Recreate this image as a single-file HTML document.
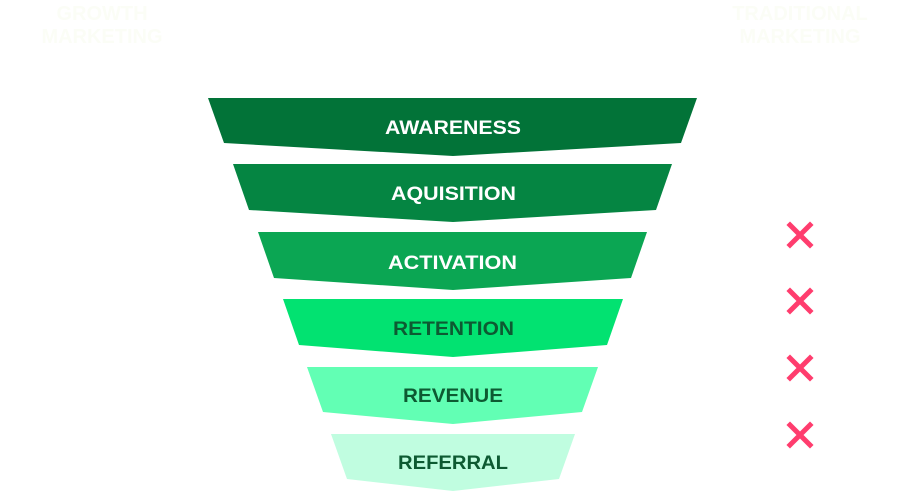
<!DOCTYPE html>
<html><head><style>body{margin:0;background:#fff}svg{display:block}</style></head>
<body>
<svg width="906" height="495" viewBox="0 0 906 495" xmlns="http://www.w3.org/2000/svg" font-family="Liberation Sans, sans-serif" font-weight="bold">
<g fill="#fbfdf6" font-size="20" text-anchor="middle">
<text x="102" y="20">GROWTH</text><text x="102" y="43">MARKETING</text>
<text x="800" y="20">TRADITIONAL</text><text x="800" y="43">MARKETING</text>
</g>
<polygon points="208,98 697,98 681,143 453,156 224,143" fill="#027338"/>
<polygon points="233,164 672,164 656,210 453,222 249,210" fill="#058542"/>
<polygon points="258,232 647,232 631,278 453,290 274,278" fill="#0ba653"/>
<polygon points="283,299 623,299 607,345 453,357 299,345" fill="#02e271"/>
<polygon points="307,367 598,367 582,412 453,424 323,412" fill="#62ffb4"/>
<polygon points="331,434 575,434 559,479 453,491 347,479" fill="#c0fde0"/>
<g font-size="19">
<text x="385" y="134" textLength="136" lengthAdjust="spacingAndGlyphs" fill="#fff">AWARENESS</text>
<text x="391" y="200" textLength="125" lengthAdjust="spacingAndGlyphs" fill="#fff">AQUISITION</text>
<text x="388" y="269" textLength="129" lengthAdjust="spacingAndGlyphs" fill="#fff">ACTIVATION</text>
<text x="393" y="335" textLength="121" lengthAdjust="spacingAndGlyphs" fill="#0d5a32">RETENTION</text>
<text x="403" y="402" textLength="100" lengthAdjust="spacingAndGlyphs" fill="#0d5a32">REVENUE</text>
<text x="398" y="469" textLength="110" lengthAdjust="spacingAndGlyphs" fill="#0d5a32">REFERRAL</text>
</g>
<g stroke="#ff3d6e" stroke-width="5" stroke-linecap="square">
<path d="M790,225 L810,245 M810,225 L790,245"/>
<path d="M790,291 L810,311 M810,291 L790,311"/>
<path d="M790,358 L810,378 M810,358 L790,378"/>
<path d="M790,425 L810,445 M810,425 L790,445"/>
</g>
</svg>
</body></html>
